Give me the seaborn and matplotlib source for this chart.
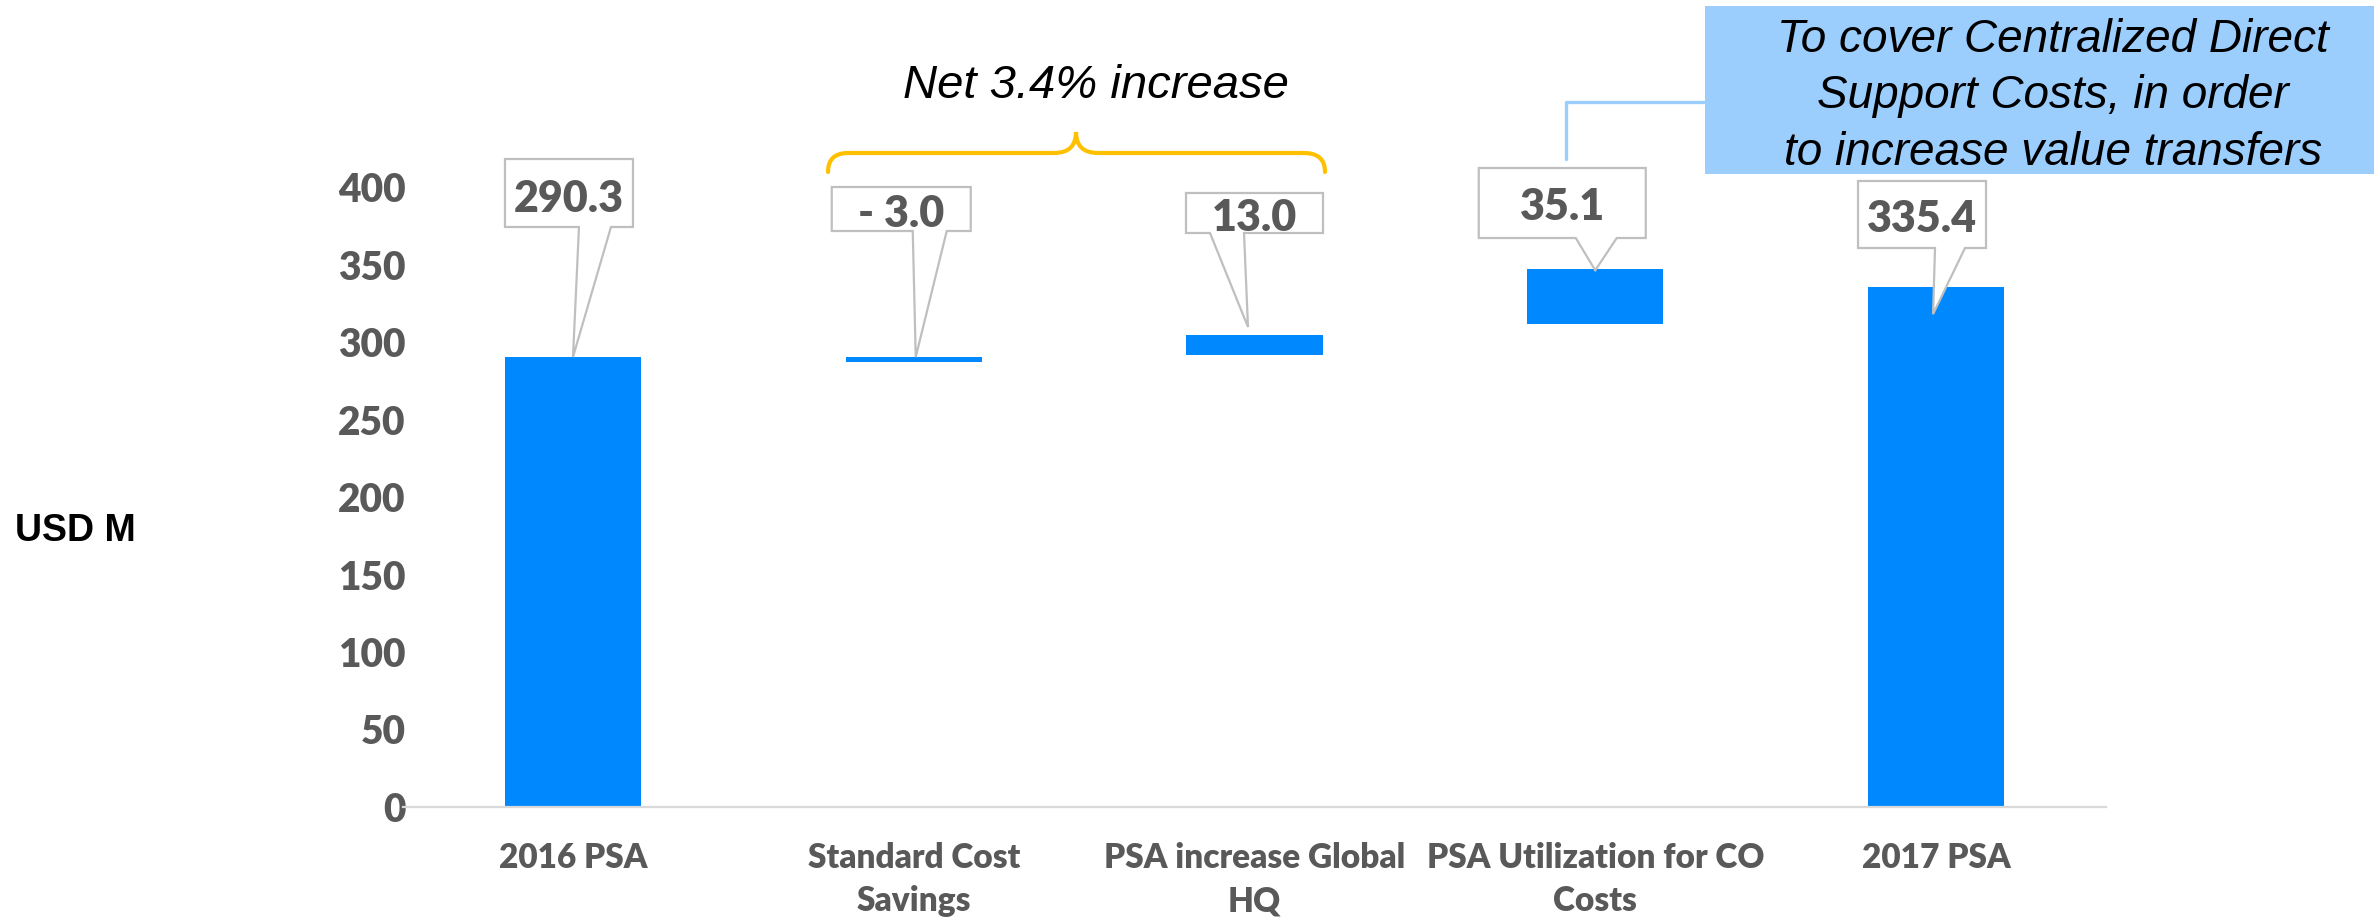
import matplotlib
matplotlib.use("Agg")
import matplotlib.pyplot as plt
from matplotlib.patches import Polygon, Rectangle, PathPatch
from matplotlib.path import Path
from matplotlib.lines import Line2D
from matplotlib.transforms import IdentityTransform
import seaborn as sns
import pandas as pd

# ---- chart data -------------------------------------------------------------
categories = ["2016 PSA", "Standard Cost\nSavings", "PSA increase Global\nHQ",
              "PSA Utilization for CO\nCosts", "2017 PSA"]
values = [290.3, -3.0, 13.0, 35.1, 335.4]          # step sizes / totals
bases = [0.0, 290.3, 291.5, 311.8, 0.0]            # where each floating bar starts
value_labels = ["290.3", "- 3.0", "13.0", "35.1", "335.4"]
y_ticks = [0, 50, 100, 150, 200, 250, 300, 350, 400]
y_label = "USD M"
brace_label = "Net 3.4% increase"
note_lines = ["To cover Centralized Direct", "Support Costs, in order",
              "to increase value transfers"]

lows = [min(b, b + v) for b, v in zip(bases, values)]
highs = [max(b, b + v) for b, v in zip(bases, values)]
sizes = [h - l for h, l in zip(highs, lows)]

# ---- styling ----------------------------------------------------------------
BLUE = "#0089FF"
NOTE_BLUE = "#9BCDFD"
GREY_TXT = "#595959"
BOX_EDGE = "#BFBFBF"
GOLD = "#FFC000"
HEAVY = "heavy"

W, H, DPI = 2374, 919, 100

sns.set_theme(style="white")
plt.rcParams["font.family"] = ["Lato", "DejaVu Sans"]

fig = plt.figure(figsize=(W / DPI, H / DPI), dpi=DPI)
fig.patch.set_facecolor("white")

# axes placed in pixel terms: x from 402.6 to 2106.4, y baseline at 807 (from top)
ax_left, ax_right = 402.6, 2106.4
y_base, y_top400 = 807.0, 187.0
ax = fig.add_axes([ax_left / W, (H - y_base) / H,
                   (ax_right - ax_left) / W, (y_base - y_top400) / H])

df = pd.DataFrame({"category": categories, "size": sizes})
sns.barplot(data=df, x="category", y="size", color=BLUE, saturation=1,
            width=0.4, linewidth=0, ax=ax)
# lift each floating bar to its starting level
for patch, low in zip(ax.patches, lows):
    patch.set_y(low)

ax.set_xlim(-0.5, len(categories) - 0.5)
ax.set_ylim(0, 400)
ax.set_yticks(y_ticks)
ax.set_yticklabels([str(t) for t in y_ticks])
ax.set_xlabel("")
ax.set_ylabel("")
for side in ("top", "right", "left"):
    ax.spines[side].set_visible(False)
ax.spines["bottom"].set_color("#D9D9D9")
ax.spines["bottom"].set_linewidth(1.6)
ax.tick_params(axis="both", length=0)
ax.tick_params(axis="y", pad=-2, labelsize=28, labelcolor=GREY_TXT)
ax.tick_params(axis="x", pad=25, labelsize=24, labelcolor=GREY_TXT)
for lab in ax.get_yticklabels():
    lab.set_fontweight(HEAVY)
for lab in ax.get_xticklabels():
    lab.set_fontweight(HEAVY)
    lab.set_linespacing(1.45)
    lab.set_multialignment("center")
ax.set_facecolor("none")

fig.text(15 / W, 1 - 541 / H, y_label, ha="left", va="baseline",
         fontsize=27, fontweight="bold", color="black",
         family=["Liberation Sans", "DejaVu Sans"])

# ---- callout boxes attached to the bars ---------------------------------------
box_dx = [-4, -12.5, 0, -33, -14]              # box centre offset from bar centre (px)
box_cy = [193, 209, 213, 203, 214.5]           # box centre, px from top
box_w = [128, 139, 137, 167, 128]
box_h = [68, 44, 40, 70, 67]
notch = [(10, 42), (11.5, 45.5), (-44.5, -10.5), (13.5, 54.5), (13, 43)]
tip_off = [(0, 0), (2, 0), (-6.5, -8), (0, 1), (-3, 27)]   # from bar top centre, +down
text_base = [212, 227, 231, 220, 232]

ident = IdentityTransform()
for i in range(len(categories)):
    bx, by = ax.transData.transform((i, highs[i]))       # display coords
    cx = bx + box_dx[i]
    cy = H - box_cy[i]
    L, R = cx - box_w[i] / 2, cx + box_w[i] / 2
    T, B = cy + box_h[i] / 2, cy - box_h[i] / 2
    n1, n2 = cx + notch[i][0], cx + notch[i][1]
    tx, ty = bx + tip_off[i][0], by - tip_off[i][1]
    verts = [(L, T), (R, T), (R, B), (n2, B), (tx, ty), (n1, B), (L, B)]
    poly = Polygon(verts, closed=True, facecolor="white", edgecolor=BOX_EDGE,
                   linewidth=1.6, transform=ident, zorder=5, joinstyle="miter")
    fig.add_artist(poly)
    fig.text(cx / W, 1 - text_base[i] / H, value_labels[i], ha="center",
             va="baseline", fontsize=31, fontweight=HEAVY, color=GREY_TXT,
             zorder=6)

# ---- brace over the two adjustment steps ------------------------------------
def tp(x, y):
    return (x, H - y)

brace_verts = [tp(828, 172), tp(828, 153), tp(848, 153), tp(1054, 153),
               tp(1076, 153), tp(1076, 132), tp(1076, 153), tp(1098, 153),
               tp(1304, 153), tp(1325, 153), tp(1325, 172)]
brace_codes = [Path.MOVETO, Path.CURVE3, Path.CURVE3, Path.LINETO,
               Path.CURVE3, Path.CURVE3, Path.CURVE3, Path.CURVE3,
               Path.LINETO, Path.CURVE3, Path.CURVE3]
fig.add_artist(PathPatch(Path(brace_verts, brace_codes), facecolor="none",
                         edgecolor=GOLD, linewidth=3, capstyle="round",
                         transform=ident, zorder=4))
fig.text(1096 / W, 1 - 98 / H, brace_label, ha="center", va="baseline",
         fontsize=34, style="italic", color="black",
         family=["Liberation Sans", "DejaVu Sans"])

# ---- explanatory note with leader line --------------------------------------
fig.add_artist(Rectangle(tp(1705, 174), W - 1705, 168, facecolor=NOTE_BLUE,
                         edgecolor="none", transform=ident, zorder=3))
lx, ly = zip(tp(1705, 102), tp(1566, 102), tp(1566, 159))
fig.add_artist(Line2D(lx, ly, color=NOTE_BLUE, linewidth=2.4,
                      transform=ident, zorder=3))
for line, base in zip(note_lines, [52, 108.5, 165]):
    fig.text(2053 / W, 1 - base / H, line, ha="center", va="baseline",
             fontsize=33, style="italic", color="black", zorder=4,
             family=["Liberation Sans", "DejaVu Sans"])

fig.savefig("out.png", dpi=DPI, facecolor="white")
